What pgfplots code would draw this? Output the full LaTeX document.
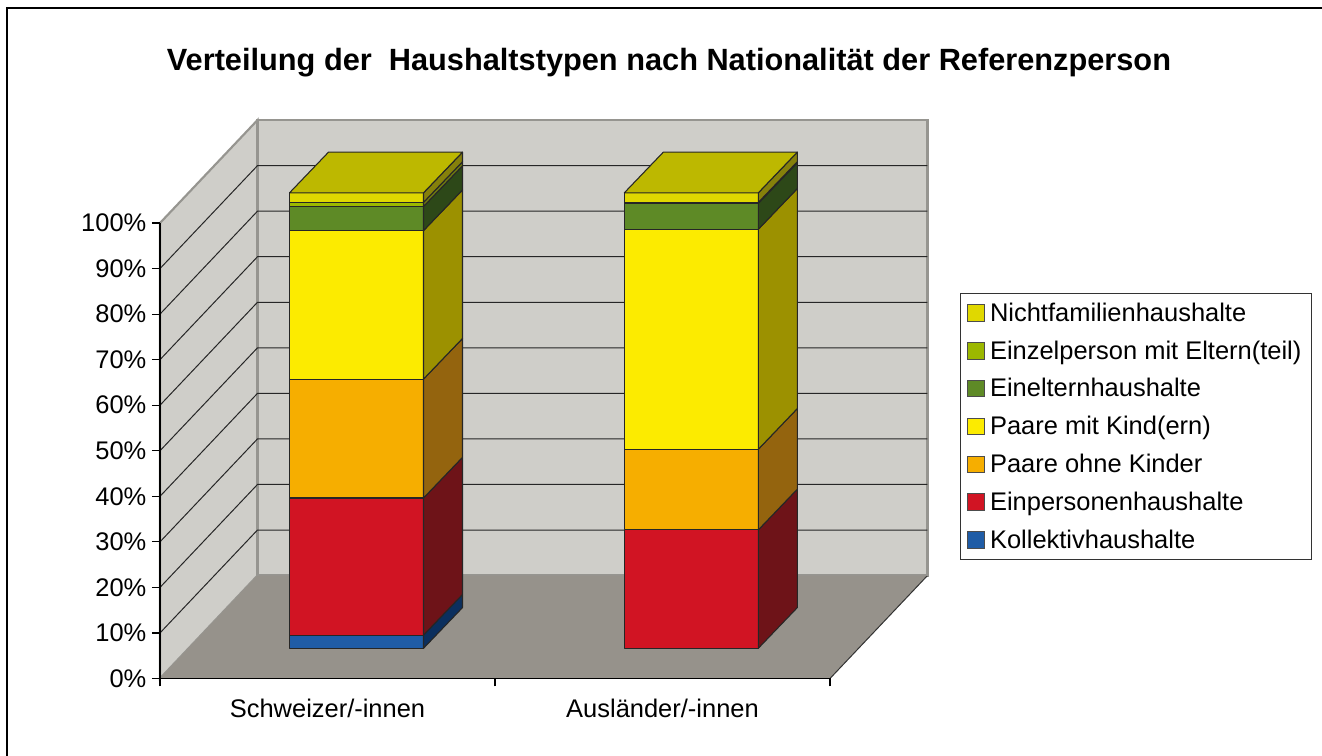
\documentclass[border=0pt]{standalone}
\usepackage{fontspec}
\setmainfont{Liberation Sans}
\usepackage{pgfplots}
\pgfplotsset{compat=1.18}
\definecolor{wallc}{HTML}{CFCEC9}
\definecolor{floorc}{HTML}{96928B}
\definecolor{edgec}{HTML}{969590}
\definecolor{K}{HTML}{1F5CA6}\definecolor{Ks}{HTML}{0B2F5E}
\definecolor{E}{HTML}{D11423}\definecolor{Es}{HTML}{6E1318}
\definecolor{O}{HTML}{F6AE00}\definecolor{Os}{HTML}{94640E}
\definecolor{M}{HTML}{FCEB00}\definecolor{Ms}{HTML}{9C9100}
\definecolor{L}{HTML}{5E8A26}\definecolor{Ls}{HTML}{2D4818}
\definecolor{Z}{HTML}{9CB800}\definecolor{Zs}{HTML}{6E7A10}
\definecolor{N}{HTML}{E0D800}\definecolor{Ns}{HTML}{85800B}
\definecolor{T}{HTML}{BDB800}
% bar geometry in axis units
\def\bw{0.4}\def\bb{6.63}\def\dx{0.1164}\def\dy{8.93}
\newcommand\seg[5]{%
  \pgfmathsetmacro\xa{#1}\pgfmathsetmacro\xb{#1+\bw}\pgfmathsetmacro\xc{#1+\bw+\dx}%
  \pgfmathsetmacro\ya{#2+\bb}\pgfmathsetmacro\yb{#3+\bb}%
  \pgfmathsetmacro\yc{#2+\bb+\dy}\pgfmathsetmacro\yd{#3+\bb+\dy}%
  \edef\temp{\noexpand\addplot[forget plot,fill=#4,draw=black!85,line width=0.8pt,line join=round] coordinates {(\xa,\ya)(\xb,\ya)(\xb,\yb)(\xa,\yb)} --cycle;
  \noexpand\addplot[forget plot,fill=#5,draw=black!85,line width=0.8pt,line join=round] coordinates {(\xb,\ya)(\xc,\yc)(\xc,\yd)(\xb,\yb)} --cycle;}\temp}
\newcommand\topf[2]{%
  \pgfmathsetmacro\xa{#1}\pgfmathsetmacro\xb{#1+\bw}\pgfmathsetmacro\xc{#1+\bw+\dx}\pgfmathsetmacro\xd{#1+\dx}%
  \pgfmathsetmacro\yb{#2+\bb}\pgfmathsetmacro\yd{#2+\bb+\dy}%
  \edef\temp{\noexpand\addplot[forget plot,fill=T,draw=black!85,line width=0.8pt,line join=round] coordinates {(\xa,\yb)(\xb,\yb)(\xc,\yd)(\xd,\yd)} --cycle;}\temp}
\newcommand\wallgrid[1]{%
  \pgfmathsetmacro\yb{#1+22.6}%
  \edef\temp{\noexpand\addplot[forget plot,black!85,line width=0.75pt] coordinates {(0,#1)(0.291,\yb)(2.291,\yb)};}\temp}
\newcommand\swatch[1]{\addlegendimage{legend image code/.code={\path[draw=black!70,line width=0.7pt,fill=#1] (0pt,-6.2pt) rectangle (12.6pt,6.2pt); \path (14.2pt,0pt);}}}
\begin{document}
\begin{tikzpicture}[x=0.75pt,y=0.75pt]
\useasboundingbox (0,0) rectangle (1322,756);
\draw[black,line width=2.2pt] (7,0) -- (7,748) -- (1322,748);
\node[font=\fontsize{23.05pt}{27pt}\selectfont\bfseries,anchor=center] at (669,693.3) {Verteilung der\ \ Haushaltstypen nach Nationalität der Referenzperson};
\begin{axis}[
  at={(120pt,58.125pt)},anchor=south west,scale only axis,
  width=502.5pt,height=341.6pt,
  xmin=0,xmax=2,ymin=0,ymax=100,clip=false,axis on top,
  axis x line*=bottom,axis y line*=left,
  axis line style={black,line width=0.9pt,-},
  every tick/.style={black,line width=0.9pt},
  tick align=outside,major tick length=6pt,
  ytick={0,10,...,100},
  yticklabel={\pgfmathprintnumber{\tick}\%},
  yticklabel style={xshift=-0.7pt},
  /pgf/number format/assume math mode=true,
  xtick={0,1,2},xticklabels={},
  extra x ticks={0.5,1.5},extra x tick labels={Schweizer/-innen,Ausländer/-innen},
  extra x tick style={major tick length=0pt,tick label style={yshift=-11.7pt}},
  tick label style={font=\fontsize{19.1pt}{22pt}\selectfont},
  legend cell align=left,
  legend style={at={(axis cs:2.387,84.63)},anchor=north west,draw=black!80,line width=0.75pt,
    font=\fontsize{19.1pt}{22pt}\selectfont,row sep=9pt,inner xsep=5.5pt,inner ysep=5pt},
]
% walls and floor
\addplot[forget plot,fill=wallc,draw=edgec,line width=1.8pt] coordinates {(0.291,22.6)(2.291,22.6)(2.291,122.6)(0.291,122.6)} --cycle;
\addplot[forget plot,fill=wallc,draw=edgec,line width=1.6pt] coordinates {(0,0)(0.291,22.6)(0.291,122.6)(0,100)} --cycle;
\addplot[forget plot,fill=floorc,draw=none] coordinates {(0,0)(2,0)(2.291,22.6)(0.291,22.6)} --cycle;
\addplot[forget plot,black!80,line width=0.75pt] coordinates {(2,0)(2.291,22.6)};
\addplot[forget plot,edgec,line width=1.8pt] coordinates {(0.291,22.6)(0.291,122.6)(2.291,122.6)(2.291,22.6)};
\wallgrid{10}\wallgrid{20}\wallgrid{30}\wallgrid{40}\wallgrid{50}\wallgrid{60}\wallgrid{70}\wallgrid{80}\wallgrid{90}
% Schweizer/-innen
\seg{0.3866}{0}{2.9}{K}{Ks}
\seg{0.3866}{2.9}{33.0}{E}{Es}
\seg{0.3866}{33.0}{59.1}{O}{Os}
\seg{0.3866}{59.1}{91.7}{M}{Ms}
\seg{0.3866}{91.7}{97.0}{L}{Ls}
\seg{0.3866}{97.0}{97.9}{Z}{Zs}
\seg{0.3866}{97.9}{100}{N}{Ns}
\topf{0.3866}{100}
% Ausländer/-innen
\seg{1.386}{0}{26.0}{E}{Es}
\seg{1.386}{26.0}{43.7}{O}{Os}
\seg{1.386}{43.7}{92.0}{M}{Ms}
\seg{1.386}{92.0}{97.7}{L}{Ls}
\seg{1.386}{97.7}{97.9}{Z}{Zs}
\seg{1.386}{97.9}{100}{N}{Ns}
\topf{1.386}{100}
% legend
\swatch{N}\addlegendentry{Nichtfamilienhaushalte}
\swatch{Z}\addlegendentry{Einzelperson mit Eltern(teil)}
\swatch{L}\addlegendentry{Einelternhaushalte}
\swatch{M}\addlegendentry{Paare mit Kind(ern)}
\swatch{O}\addlegendentry{Paare ohne Kinder}
\swatch{E}\addlegendentry{Einpersonenhaushalte}
\swatch{K}\addlegendentry{Kollektivhaushalte}
\end{axis}
\end{tikzpicture}
\end{document}
